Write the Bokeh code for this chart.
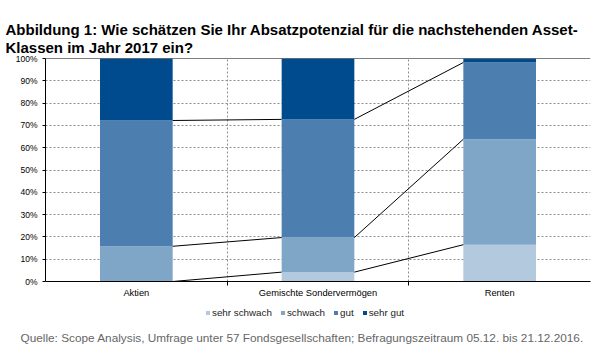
from bokeh.plotting import figure
from bokeh.layouts import column
from bokeh.models import (Range1d, FixedTicker, PrintfTickFormatter, Legend,
                          LegendItem, Span, ColumnDataSource, Title)
from bokeh.embed import file_html
from bokeh.resources import INLINE

# ---- data ----
categories = ["Aktien", "Gemischte Sondervermögen", "Renten"]
series = ["sehr schwach", "schwach", "gut", "sehr gut"]
sehr_schwach = [0.0, 4.2, 16.5]
schwach = [15.8, 15.5, 47.3]
gut = [56.4, 53.0, 34.4]
sehr_gut = [27.8, 27.3, 1.8]
colors = ["#B3C9DD", "#7FA5C7", "#4C7EAF", "#004B8D"]
y_ticks = [0, 10, 20, 30, 40, 50, 60, 70, 80, 90, 100]
title_lines = ["Abbildung 1: Wie schätzen Sie Ihr Absatzpotenzial für die nachstehenden Asset-",
               "Klassen im Jahr 2017 ein?"]
source_text = "Quelle: Scope Analysis, Umfrage unter 57 Fondsgesellschaften; Befragungszeitraum  05.12. bis 21.12.2016."

FONT = "Liberation Sans"
bar_width = 0.4

xs = [i + 0.5 for i in range(len(categories))]
data = dict(x=xs, **{s: v for s, v in zip(series, [sehr_schwach, schwach, gut, sehr_gut])})
src = ColumnDataSource(data)

p = figure(width=603, height=306, output_backend="svg", toolbar_location=None,
           x_range=Range1d(0, len(categories)), y_range=Range1d(0, 100),
           min_border_left=45, min_border_right=13, min_border_top=58, min_border_bottom=25)
p.outline_line_color = None
p.background_fill_color = "white"
p.border_fill_color = "white"

rs = p.vbar_stack(series, x="x", width=bar_width, color=colors, source=src, line_color=None)

# connector lines between bars at cumulative levels
cum = []
run = [0.0] * len(categories)
for vals in [sehr_schwach, schwach, gut]:
    run = [a + b for a, b in zip(run, vals)]
    cum.append(list(run))
x0, y0, x1, y1 = [], [], [], []
for level in cum:
    for i in range(len(categories) - 1):
        x0.append(xs[i] + bar_width / 2)
        x1.append(xs[i + 1] - bar_width / 2)
        y0.append(level[i])
        y1.append(level[i + 1])
p.segment(x0=x0, y0=y0, x1=x1, y1=y1, line_color="black", line_width=1)

# top border
p.add_layout(Span(location=100, dimension="width", line_color="black", line_width=1))

# axes
xa = p.xaxis[0]
xa.ticker = FixedTicker(ticks=xs, minor_ticks=[1, 2])
xa.major_label_overrides = {x: c for x, c in zip(xs, categories)}
xa.major_tick_line_color = None
xa.major_tick_out = 0
xa.major_tick_in = 0
xa.minor_tick_out = 4
xa.minor_tick_in = 0
xa.minor_tick_line_color = "black"
xa.axis_line_color = "black"
xa.major_label_text_font = FONT
xa.major_label_text_font_size = "9.3px"
xa.major_label_text_color = "black"
xa.major_label_standoff = 2

ya = p.yaxis[0]
ya.ticker = FixedTicker(ticks=y_ticks)
ya.formatter = PrintfTickFormatter(format="%d%%")
ya.major_tick_out = 3
ya.major_tick_in = 0
ya.minor_tick_line_color = None
ya.axis_line_color = "black"
ya.major_tick_line_color = "black"
ya.major_label_text_font = FONT
ya.major_label_text_font_size = "8.5px"
ya.major_label_text_color = "black"
ya.major_label_standoff = 5

p.ygrid.ticker = FixedTicker(ticks=y_ticks[1:-1])
p.ygrid.grid_line_color = "#8c8c8c"
p.ygrid.grid_line_dash = "2 2"
p.xgrid.ticker = FixedTicker(ticks=[1, 2, 3])
p.xgrid.grid_line_color = "#8c8c8c"
p.xgrid.grid_line_dash = "2 2"

# two-line title
p.add_layout(Title(text="\n".join(title_lines), align="left", offset=-40, standoff=0,
                   vertical_align="top",
                   text_font=FONT, text_font_size="15px", text_font_style="bold",
                   text_color="black", text_line_height=1.1), "above")

# ---- caption strip: legend + source ----
cap = figure(width=603, height=55, output_backend="svg", toolbar_location=None,
             x_range=Range1d(0, 1), y_range=Range1d(0, 1),
             x_axis_type=None, y_axis_type=None,
             min_border_left=45, min_border_right=13, min_border_top=0, min_border_bottom=40)
cap.outline_line_color = None
cap.xgrid.visible = False
cap.ygrid.visible = False
cap.border_fill_color = "white"

# hidden copies of the series, only used to draw the legend swatches
legend_renderers = cap.vbar_stack(series, x="x", width=bar_width, color=colors, source=src,
                                  line_color=None, visible=False)
items = [LegendItem(label=s, renderers=[r]) for s, r in zip(series, legend_renderers)]
legend = Legend(items=items, orientation="horizontal", location=(160, 3),
                glyph_width=5, glyph_height=5, label_standoff=2, spacing=8,
                padding=0, margin=0, label_height=10, label_width=0, border_line_color=None,
                background_fill_alpha=0, label_text_font=FONT,
                label_text_font_size="9.8px", label_text_color="#222222",
                inactive_fill_alpha=0)
cap.add_layout(legend, "center")

cap.add_layout(Title(text=source_text, align="left", offset=-25, standoff=15,
                     text_font=FONT, text_font_size="11.8px", text_color="#666666",
                     text_font_style="normal"), "below")

layout = column(p, cap, spacing=0)
open("out.html", "w").write(file_html(layout, INLINE))
